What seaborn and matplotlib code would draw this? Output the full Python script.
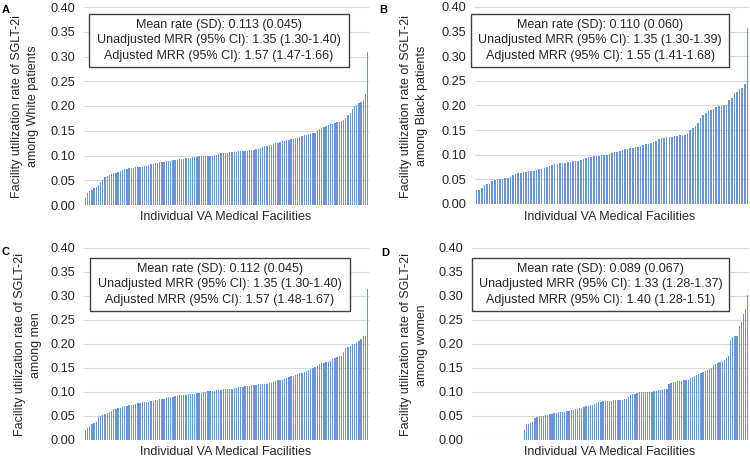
import matplotlib
matplotlib.use("Agg")
import matplotlib.pyplot as plt
import matplotlib.patches as mpatches
import seaborn as sns
import pandas as pd

# ---------------- data ----------------
white_rates = [
    0.015, 0.025, 0.028, 0.031, 0.034, 0.037, 0.041, 0.046, 0.051, 0.057,
    0.059, 0.060, 0.062, 0.064, 0.065, 0.066, 0.069, 0.071, 0.072, 0.073,
    0.074, 0.075, 0.075, 0.076, 0.076, 0.077, 0.077, 0.078, 0.079, 0.080,
    0.082, 0.083, 0.084, 0.085, 0.086, 0.086, 0.087, 0.088, 0.088, 0.089,
    0.090, 0.090, 0.091, 0.092, 0.092, 0.093, 0.094, 0.095, 0.095, 0.096,
    0.097, 0.097, 0.098, 0.098, 0.099, 0.099, 0.100, 0.100, 0.100, 0.101,
    0.102, 0.104, 0.105, 0.105, 0.106, 0.106, 0.107, 0.107, 0.108, 0.108,
    0.109, 0.109, 0.110, 0.110, 0.110, 0.111, 0.111, 0.112, 0.113, 0.114,
    0.116, 0.118, 0.119, 0.120, 0.121, 0.122, 0.124, 0.125, 0.126, 0.127,
    0.129, 0.130, 0.131, 0.132, 0.133, 0.134, 0.135, 0.136, 0.138, 0.140,
    0.141, 0.142, 0.143, 0.144, 0.145, 0.146, 0.152, 0.154, 0.155, 0.157,
    0.159, 0.161, 0.163, 0.164, 0.166, 0.167, 0.168, 0.170, 0.172, 0.175,
    0.181, 0.186, 0.193, 0.201, 0.203, 0.206, 0.209, 0.213, 0.224, 0.310]

black_rates = [
    0.028, 0.029, 0.033, 0.039, 0.040, 0.041, 0.047, 0.049, 0.050, 0.050,
    0.051, 0.052, 0.053, 0.055, 0.058, 0.060, 0.062, 0.063, 0.064, 0.065,
    0.066, 0.067, 0.068, 0.070, 0.071, 0.072, 0.073, 0.075, 0.077, 0.079,
    0.081, 0.082, 0.083, 0.083, 0.084, 0.085, 0.086, 0.087, 0.087, 0.088,
    0.089, 0.091, 0.093, 0.095, 0.096, 0.097, 0.097, 0.098, 0.099, 0.100,
    0.100, 0.101, 0.104, 0.105, 0.106, 0.108, 0.110, 0.111, 0.112, 0.113,
    0.114, 0.115, 0.116, 0.118, 0.120, 0.121, 0.122, 0.124, 0.125, 0.128,
    0.131, 0.134, 0.135, 0.136, 0.137, 0.137, 0.138, 0.139, 0.140, 0.140,
    0.141, 0.142, 0.150, 0.155, 0.158, 0.165, 0.175, 0.180, 0.185, 0.188,
    0.190, 0.193, 0.196, 0.198, 0.199, 0.200, 0.202, 0.212, 0.215, 0.225,
    0.227, 0.234, 0.236, 0.243, 0.358]

men_rates = [
    0.020, 0.025, 0.030, 0.034, 0.035, 0.037, 0.047, 0.050, 0.053, 0.055,
    0.056, 0.058, 0.060, 0.064, 0.065, 0.066, 0.067, 0.069, 0.070, 0.071,
    0.072, 0.072, 0.073, 0.074, 0.078, 0.078, 0.079, 0.079, 0.080, 0.080,
    0.081, 0.082, 0.083, 0.084, 0.085, 0.085, 0.086, 0.088, 0.089, 0.090,
    0.090, 0.091, 0.092, 0.093, 0.093, 0.094, 0.094, 0.095, 0.095, 0.096,
    0.096, 0.097, 0.097, 0.098, 0.099, 0.101, 0.102, 0.102, 0.103, 0.103,
    0.104, 0.105, 0.105, 0.106, 0.106, 0.107, 0.107, 0.107, 0.108, 0.109,
    0.110, 0.110, 0.111, 0.112, 0.113, 0.113, 0.114, 0.115, 0.115, 0.116,
    0.116, 0.117, 0.117, 0.117, 0.118, 0.119, 0.120, 0.122, 0.124, 0.125,
    0.126, 0.128, 0.130, 0.131, 0.133, 0.134, 0.136, 0.138, 0.139, 0.140,
    0.142, 0.143, 0.145, 0.147, 0.150, 0.152, 0.155, 0.158, 0.160, 0.161,
    0.162, 0.163, 0.165, 0.168, 0.170, 0.172, 0.174, 0.176, 0.183, 0.191,
    0.193, 0.196, 0.199, 0.200, 0.202, 0.206, 0.210, 0.216, 0.217, 0.315]

women_rates = [0.0] * 24 + [
    0.020, 0.033, 0.034, 0.035, 0.037, 0.045, 0.048, 0.049, 0.050, 0.051,
    0.052, 0.053, 0.054, 0.055, 0.056, 0.057, 0.058, 0.058, 0.058, 0.059,
    0.060, 0.061, 0.062, 0.063, 0.064, 0.065, 0.066, 0.067, 0.068, 0.070,
    0.071, 0.072, 0.073, 0.075, 0.078, 0.080, 0.080, 0.081, 0.081, 0.082,
    0.082, 0.082, 0.083, 0.083, 0.083, 0.084, 0.084, 0.085, 0.086, 0.090,
    0.093, 0.095, 0.096, 0.097, 0.099, 0.100, 0.100, 0.100, 0.100, 0.101,
    0.101, 0.102, 0.103, 0.104, 0.105, 0.105, 0.106, 0.107, 0.116, 0.118,
    0.120, 0.121, 0.122, 0.122, 0.123, 0.124, 0.125, 0.126, 0.130, 0.132,
    0.133, 0.136, 0.138, 0.140, 0.142, 0.144, 0.146, 0.148, 0.150, 0.157,
    0.158, 0.160, 0.163, 0.165, 0.167, 0.170, 0.175, 0.208, 0.215, 0.216,
    0.217, 0.237, 0.245, 0.263, 0.272, 0.303]

panel_letters = ["A", "B", "C", "D"]
ylabels = [
    "Facility utilization rate of SGLT-2i\namong White patients",
    "Facility utilization rate of SGLT-2i\namong Black patients",
    "Facility utilization rate of SGLT-2i\namong men",
    "Facility utilization rate of SGLT-2i\namong women",
]
box_texts = [
    ["Mean rate (SD): 0.113 (0.045)",
     "Unadjusted MRR (95% CI): 1.35 (1.30-1.40)",
     "Adjusted MRR (95% CI): 1.57 (1.47-1.66)"],
    ["Mean rate (SD): 0.110 (0.060)",
     "Unadjusted MRR (95% CI): 1.35 (1.30-1.39)",
     "Adjusted MRR (95% CI): 1.55 (1.41-1.68)"],
    ["Mean rate (SD): 0.112 (0.045)",
     "Unadjusted MRR (95% CI): 1.35 (1.30-1.40)",
     "Adjusted MRR (95% CI): 1.57 (1.48-1.67)"],
    ["Mean rate (SD): 0.089 (0.067)",
     "Unadjusted MRR (95% CI): 1.33 (1.28-1.37)",
     "Adjusted MRR (95% CI): 1.40 (1.28-1.51)"],
]
xlabel = "Individual VA Medical Facilities"
yticks = [0.00, 0.05, 0.10, 0.15, 0.20, 0.25, 0.30, 0.35, 0.40]
series = [white_rates, black_rates, men_rates, women_rates]

# ---------------- style ----------------
sns.set_theme(style="white")
plt.rcParams["font.family"] = ["Liberation Sans", "DejaVu Sans"]

W, H = 750, 458
fig = plt.figure(figsize=(7.5, 4.58), dpi=100)

def rect(l, r, top, bottom):
    return [l / W, 1 - bottom / H, (r - l) / W, (bottom - top) / H]

axes_px = [(84, 369, 7, 205), (475, 749, 7, 204), (84, 369, 248, 440), (472, 749, 248, 440)]
box_px = [(89, 349, 14, 67), (471, 729, 14, 67), (90, 350, 258, 311), (472, 729, 258, 311)]
ylabel_px = [(25, 106), (414, 106), (28, 345), (414, 345)]
xlabel_px = [(226, 217), (610, 217), (226, 452), (610, 452)]
letter_px = [(2, 5), (379, 5), (2, 247), (381, 248)]

bar_color = "#6A93DB"
text_color = "#262626"

for i, vals in enumerate(series):
    ax = fig.add_axes(rect(*axes_px[i]))
    df = pd.DataFrame({"facility": list(range(len(vals))), "rate": vals})
    sns.barplot(data=df, x="facility", y="rate", color=bar_color, width=0.6,
                saturation=1, errorbar=None, edgecolor="none", linewidth=0, ax=ax)
    n = len(vals)
    ax.set_xlim(-0.6, n - 0.4)
    ax.set_ylim(0, 0.40)
    ax.set_yticks(yticks)
    ax.set_yticklabels([f"{t:.2f}" for t in yticks], fontsize=9.2, color=text_color)
    ax.set_xticks([])
    ax.set_xlabel("")
    ax.set_ylabel("")
    ax.tick_params(axis="y", length=0, pad=6.5)
    ax.yaxis.grid(True, color="#D9D9D9", linewidth=0.8)
    ax.set_axisbelow(True)
    for s in ax.spines.values():
        s.set_visible(False)

    # statistics box
    l, r, t, b = box_px[i]
    fig.patches.append(mpatches.Rectangle((l / W, 1 - b / H), (r - l) / W, (b - t) / H,
                                          transform=fig.transFigure, facecolor="white",
                                          edgecolor="#404040", linewidth=1.0, zorder=5))
    cx = (l + r) / 2
    for k, line in enumerate(box_texts[i]):
        cy = t + 11 + k * 15.5
        fig.text(cx / W, 1 - cy / H, line, ha="center", va="center",
                 fontsize=9, color=text_color, zorder=6)

    # labels
    fig.text(ylabel_px[i][0] / W, 1 - ylabel_px[i][1] / H, ylabels[i], rotation=90,
             ha="center", va="center", fontsize=9, color=text_color, linespacing=1.45)
    fig.text(xlabel_px[i][0] / W, 1 - xlabel_px[i][1] / H, xlabel,
             ha="center", va="center", fontsize=9, color=text_color)
    fig.text(letter_px[i][0] / W, 1 - letter_px[i][1] / H, panel_letters[i],
             ha="left", va="top", fontsize=8, fontweight="bold", color="#000000")

fig.savefig("out.png", dpi=100)
